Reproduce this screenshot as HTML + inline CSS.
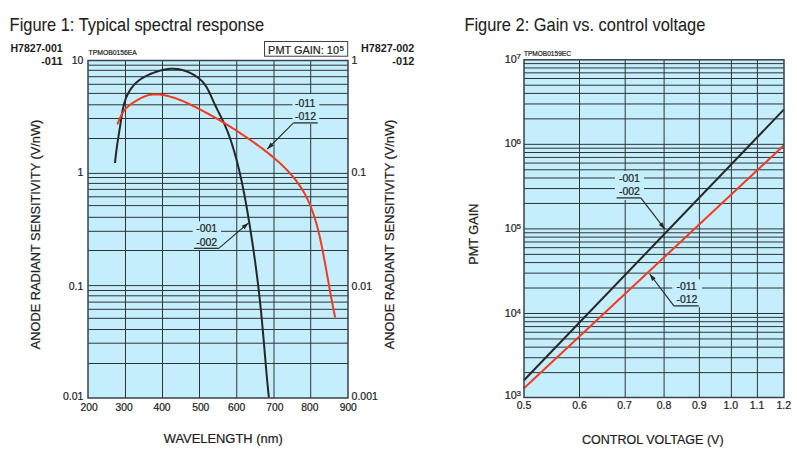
<!DOCTYPE html><html><head><meta charset="utf-8"><style>html,body{margin:0;padding:0;background:#fff;width:797px;height:464px;overflow:hidden}svg{display:block}text{font-family:"Liberation Sans", sans-serif;fill:#1e1e1e;stroke:#1e1e1e;stroke-width:0.22px}text.b{stroke-width:0}text.t{stroke-width:0.1px}</style></head><body>
<svg width="797" height="464" viewBox="0 0 797 464">
<text x="9.6" y="30.7" font-size="18.2" text-anchor="start" font-weight="normal" textLength="254.5" lengthAdjust="spacingAndGlyphs" class="t">Figure 1: Typical spectral response</text>
<text x="464.4" y="30.6" font-size="18.2" text-anchor="start" font-weight="normal" textLength="241" lengthAdjust="spacingAndGlyphs" class="t">Figure 2: Gain vs. control voltage</text>
<rect x="88" y="60.5" width="260" height="337.5" fill="#c4eefc"/>
<line x1="88" y1="65.2" x2="348" y2="65.2" stroke="#2e3438" stroke-width="1"/>
<line x1="88" y1="70.3" x2="348" y2="70.3" stroke="#2e3438" stroke-width="1"/>
<line x1="88" y1="76.7" x2="348" y2="76.7" stroke="#2e3438" stroke-width="1"/>
<line x1="88" y1="84.3" x2="348" y2="84.3" stroke="#2e3438" stroke-width="1"/>
<line x1="88" y1="93.4" x2="348" y2="93.4" stroke="#2e3438" stroke-width="1"/>
<line x1="88" y1="104.8" x2="348" y2="104.8" stroke="#2e3438" stroke-width="1"/>
<line x1="88" y1="118.5" x2="348" y2="118.5" stroke="#2e3438" stroke-width="1"/>
<line x1="88" y1="138.5" x2="348" y2="138.5" stroke="#2e3438" stroke-width="1"/>
<line x1="88" y1="173.4" x2="348" y2="173.4" stroke="#2e3438" stroke-width="1"/>
<line x1="88" y1="177.5" x2="348" y2="177.5" stroke="#2e3438" stroke-width="1"/>
<line x1="88" y1="183.4" x2="348" y2="183.4" stroke="#2e3438" stroke-width="1"/>
<line x1="88" y1="189.4" x2="348" y2="189.4" stroke="#2e3438" stroke-width="1"/>
<line x1="88" y1="196.8" x2="348" y2="196.8" stroke="#2e3438" stroke-width="1"/>
<line x1="88" y1="205.6" x2="348" y2="205.6" stroke="#2e3438" stroke-width="1"/>
<line x1="88" y1="217.3" x2="348" y2="217.3" stroke="#2e3438" stroke-width="1"/>
<line x1="88" y1="231.3" x2="348" y2="231.3" stroke="#2e3438" stroke-width="1"/>
<line x1="88" y1="250.5" x2="348" y2="250.5" stroke="#2e3438" stroke-width="1"/>
<line x1="88" y1="285.6" x2="348" y2="285.6" stroke="#2e3438" stroke-width="1"/>
<line x1="88" y1="290.5" x2="348" y2="290.5" stroke="#2e3438" stroke-width="1"/>
<line x1="88" y1="295.8" x2="348" y2="295.8" stroke="#2e3438" stroke-width="1"/>
<line x1="88" y1="302.1" x2="348" y2="302.1" stroke="#2e3438" stroke-width="1"/>
<line x1="88" y1="309.3" x2="348" y2="309.3" stroke="#2e3438" stroke-width="1"/>
<line x1="88" y1="318.3" x2="348" y2="318.3" stroke="#2e3438" stroke-width="1"/>
<line x1="88" y1="329.5" x2="348" y2="329.5" stroke="#2e3438" stroke-width="1"/>
<line x1="88" y1="343.2" x2="348" y2="343.2" stroke="#2e3438" stroke-width="1"/>
<line x1="88" y1="363.5" x2="348" y2="363.5" stroke="#2e3438" stroke-width="1"/>
<line x1="125.5" y1="60.5" x2="125.5" y2="398" stroke="#2e3438" stroke-width="1"/>
<line x1="162.5" y1="60.5" x2="162.5" y2="398" stroke="#2e3438" stroke-width="1"/>
<line x1="199.5" y1="60.5" x2="199.5" y2="398" stroke="#2e3438" stroke-width="1"/>
<line x1="236.75" y1="60.5" x2="236.75" y2="398" stroke="#2e3438" stroke-width="1"/>
<line x1="274" y1="60.5" x2="274" y2="398" stroke="#2e3438" stroke-width="1"/>
<line x1="310.7" y1="60.5" x2="310.7" y2="398" stroke="#2e3438" stroke-width="1"/>
<rect x="292.5" y="94" width="26.7" height="30" fill="#c4eefc"/>
<rect x="192.7" y="221.3" width="28.3" height="28.7" fill="#c4eefc"/>
<path d="M114.99,163 L115.15,161.38 L115.31,159.76 L115.48,158.14 L115.66,156.52 L115.85,154.91 L116.04,153.31 L116.25,151.7 L116.46,150.1 L116.67,148.5 L116.9,146.9 L117.12,145.31 L117.36,143.72 L117.59,142.12 L117.84,140.53 L118.08,138.94 L118.33,137.35 L118.58,135.76 L118.83,134.17 L119.08,132.58 L119.33,130.98 L119.58,129.39 L119.84,127.79 L120.09,126.2 L120.34,124.6 L120.59,123 L120.83,121.39 L121.08,119.79 L121.32,118.18 L121.57,116.57 L121.82,114.96 L122.09,113.36 L122.37,111.75 L122.67,110.16 L122.99,108.56 L123.33,106.98 L123.71,105.41 L124.12,103.84 L124.56,102.29 L125.05,100.75 L125.58,99.23 L126.15,97.72 L126.78,96.23 L127.46,94.75 L128.19,93.31 L128.97,91.89 L129.8,90.5 L130.68,89.15 L131.61,87.83 L132.59,86.56 L133.63,85.33 L134.71,84.15 L135.85,83.02 L137.03,81.94 L138.26,80.92 L139.54,79.95 L140.85,79.03 L142.21,78.16 L143.6,77.33 L145.02,76.54 L146.46,75.79 L147.93,75.09 L149.43,74.41 L150.94,73.78 L152.46,73.17 L154,72.6 L155.55,72.06 L157.1,71.54 L158.66,71.05 L160.23,70.6 L161.8,70.19 L163.37,69.82 L164.95,69.5 L166.53,69.23 L168.11,69.02 L169.7,68.86 L171.29,68.77 L172.89,68.74 L174.48,68.79 L176.08,68.91 L177.67,69.09 L179.26,69.35 L180.84,69.67 L182.41,70.06 L183.97,70.51 L185.52,71.02 L187.05,71.58 L188.56,72.2 L190.05,72.87 L191.52,73.6 L192.96,74.37 L194.36,75.18 L195.74,76.05 L197.08,76.96 L198.37,77.92 L199.62,78.94 L200.81,80 L201.95,81.11 L203.04,82.28 L204.06,83.5 L205.01,84.78 L205.9,86.1 L206.74,87.46 L207.54,88.86 L208.29,90.29 L209.02,91.74 L209.72,93.21 L210.4,94.69 L211.07,96.18 L211.73,97.67 L212.39,99.15 L213.06,100.64 L213.74,102.12 L214.42,103.59 L215.12,105.05 L215.82,106.51 L216.53,107.97 L217.25,109.42 L217.97,110.87 L218.69,112.32 L219.42,113.77 L220.14,115.21 L220.85,116.66 L221.57,118.11 L222.27,119.56 L222.97,121.02 L223.65,122.48 L224.32,123.95 L224.98,125.42 L225.63,126.9 L226.25,128.38 L226.87,129.88 L227.47,131.38 L228.05,132.88 L228.62,134.39 L229.18,135.91 L229.73,137.43 L230.26,138.95 L230.79,140.48 L231.3,142.02 L231.8,143.56 L232.29,145.1 L232.77,146.64 L233.25,148.19 L233.71,149.74 L234.17,151.3 L234.61,152.85 L235.05,154.41 L235.49,155.97 L235.92,157.53 L236.34,159.09 L236.75,160.66 L237.16,162.22 L237.56,163.79 L237.96,165.36 L238.35,166.93 L238.73,168.5 L239.11,170.07 L239.48,171.64 L239.85,173.22 L240.21,174.79 L240.57,176.37 L240.92,177.95 L241.27,179.53 L241.61,181.11 L241.95,182.69 L242.28,184.27 L242.61,185.85 L242.94,187.43 L243.26,189.02 L243.57,190.6 L243.89,192.19 L244.19,193.78 L244.5,195.37 L244.8,196.95 L245.1,198.54 L245.39,200.13 L245.68,201.73 L245.97,203.32 L246.26,204.91 L246.54,206.5 L246.82,208.09 L247.09,209.69 L247.37,211.28 L247.64,212.88 L247.91,214.47 L248.18,216.07 L248.44,217.66 L248.7,219.26 L248.97,220.85 L249.23,222.45 L249.49,224.05 L249.74,225.64 L250,227.24 L250.25,228.84 L250.5,230.44 L250.76,232.03 L251,233.63 L251.25,235.23 L251.5,236.83 L251.74,238.43 L251.99,240.03 L252.23,241.63 L252.47,243.23 L252.71,244.83 L252.94,246.42 L253.18,248.02 L253.41,249.63 L253.64,251.23 L253.87,252.83 L254.1,254.43 L254.33,256.03 L254.55,257.63 L254.77,259.23 L254.99,260.83 L255.21,262.44 L255.43,264.04 L255.65,265.64 L255.86,267.24 L256.08,268.85 L256.29,270.45 L256.49,272.05 L256.7,273.66 L256.91,275.26 L257.11,276.86 L257.31,278.47 L257.51,280.07 L257.71,281.68 L257.91,283.28 L258.1,284.89 L258.29,286.49 L258.48,288.1 L258.67,289.71 L258.86,291.31 L259.04,292.92 L259.23,294.53 L259.41,296.13 L259.59,297.74 L259.76,299.35 L259.94,300.96 L260.11,302.56 L260.28,304.17 L260.45,305.78 L260.62,307.39 L260.78,309 L260.95,310.61 L261.11,312.22 L261.27,313.82 L261.42,315.43 L261.58,317.04 L261.73,318.65 L261.89,320.26 L262.04,321.88 L262.19,323.49 L262.33,325.1 L262.48,326.71 L262.63,328.32 L262.77,329.93 L262.91,331.54 L263.06,333.15 L263.2,334.76 L263.34,336.38 L263.48,337.99 L263.62,339.6 L263.76,341.21 L263.89,342.82 L264.03,344.43 L264.17,346.05 L264.31,347.66 L264.44,349.27 L264.58,350.88 L264.72,352.49 L264.86,354.11 L264.99,355.72 L265.13,357.33 L265.27,358.94 L265.41,360.55 L265.55,362.17 L265.69,363.78 L265.83,365.39 L265.97,367 L266.11,368.61 L266.25,370.22 L266.39,371.83 L266.54,373.45 L266.69,375.06 L266.83,376.67 L266.98,378.28 L267.13,379.89 L267.28,381.5 L267.43,383.11 L267.59,384.72 L267.74,386.33 L267.9,387.94 L268.06,389.55 L268.22,391.16 L268.38,392.77 L268.55,394.37 L268.72,395.98 L268.89,397.59" fill="none" stroke="#262626" stroke-width="2" stroke-linejoin="round" stroke-linecap="butt"/>
<path d="M117.31,124.41 L117.77,123.33 L118.23,122.23 L118.69,121.11 L119.16,119.97 L119.65,118.83 L120.15,117.7 L120.67,116.57 L121.22,115.45 L121.79,114.35 L122.39,113.27 L123.03,112.23 L123.71,111.22 L124.43,110.26 L125.19,109.34 L125.99,108.47 L126.83,107.63 L127.7,106.82 L128.6,106.05 L129.53,105.3 L130.49,104.58 L131.47,103.88 L132.47,103.19 L133.48,102.52 L134.51,101.85 L135.55,101.19 L136.61,100.54 L137.67,99.9 L138.74,99.28 L139.83,98.68 L140.92,98.1 L142.03,97.56 L143.14,97.04 L144.27,96.56 L145.4,96.12 L146.55,95.73 L147.71,95.38 L148.87,95.09 L150.05,94.85 L151.24,94.66 L152.43,94.53 L153.63,94.44 L154.83,94.39 L156.04,94.39 L157.25,94.43 L158.45,94.5 L159.66,94.6 L160.87,94.74 L162.07,94.9 L163.27,95.08 L164.46,95.29 L165.65,95.52 L166.83,95.78 L168.01,96.05 L169.18,96.34 L170.35,96.66 L171.51,96.99 L172.67,97.34 L173.82,97.71 L174.98,98.09 L176.12,98.49 L177.26,98.91 L178.4,99.33 L179.54,99.77 L180.67,100.23 L181.79,100.69 L182.92,101.17 L184.04,101.66 L185.15,102.15 L186.27,102.66 L187.38,103.17 L188.49,103.69 L189.59,104.22 L190.69,104.75 L191.79,105.29 L192.88,105.83 L193.98,106.37 L195.07,106.92 L196.16,107.47 L197.24,108.02 L198.32,108.57 L199.4,109.13 L200.48,109.69 L201.56,110.25 L202.63,110.81 L203.71,111.38 L204.78,111.95 L205.84,112.52 L206.91,113.09 L207.97,113.67 L209.03,114.25 L210.09,114.83 L211.15,115.42 L212.21,116.01 L213.26,116.6 L214.32,117.19 L215.37,117.79 L216.42,118.39 L217.47,118.99 L218.51,119.6 L219.56,120.21 L220.6,120.83 L221.64,121.44 L222.69,122.07 L223.73,122.69 L224.76,123.32 L225.8,123.95 L226.84,124.58 L227.87,125.22 L228.91,125.87 L229.94,126.51 L230.97,127.16 L232,127.81 L233.03,128.47 L234.05,129.12 L235.08,129.78 L236.1,130.45 L237.13,131.11 L238.15,131.78 L239.17,132.45 L240.18,133.12 L241.2,133.8 L242.21,134.47 L243.22,135.15 L244.23,135.83 L245.24,136.51 L246.25,137.2 L247.25,137.88 L248.26,138.57 L249.26,139.26 L250.25,139.95 L251.25,140.64 L252.24,141.33 L253.24,142.03 L254.22,142.72 L255.21,143.43 L256.2,144.13 L257.18,144.83 L258.16,145.54 L259.14,146.26 L260.11,146.97 L261.08,147.69 L262.05,148.41 L263.02,149.14 L263.98,149.87 L264.94,150.61 L265.9,151.35 L266.86,152.09 L267.81,152.84 L268.76,153.6 L269.7,154.36 L270.65,155.12 L271.59,155.89 L272.52,156.67 L273.45,157.45 L274.38,158.24 L275.31,159.03 L276.23,159.83 L277.14,160.64 L278.05,161.45 L278.96,162.26 L279.86,163.09 L280.75,163.92 L281.64,164.75 L282.52,165.59 L283.4,166.44 L284.27,167.3 L285.13,168.16 L285.98,169.03 L286.83,169.9 L287.67,170.78 L288.5,171.67 L289.33,172.56 L290.14,173.47 L290.95,174.37 L291.75,175.29 L292.54,176.21 L293.32,177.14 L294.09,178.08 L294.85,179.02 L295.6,179.98 L296.34,180.94 L297.07,181.9 L297.79,182.88 L298.5,183.86 L299.2,184.85 L299.88,185.85 L300.56,186.85 L301.22,187.86 L301.87,188.89 L302.5,189.92 L303.13,190.95 L303.74,192 L304.34,193.05 L304.92,194.11 L305.5,195.18 L306.06,196.26 L306.6,197.34 L307.14,198.44 L307.66,199.53 L308.17,200.64 L308.68,201.75 L309.17,202.86 L309.64,203.98 L310.11,205.11 L310.57,206.24 L311.02,207.37 L311.46,208.51 L311.89,209.65 L312.31,210.8 L312.72,211.95 L313.12,213.1 L313.51,214.25 L313.9,215.41 L314.28,216.57 L314.64,217.73 L315.01,218.89 L315.36,220.05 L315.71,221.22 L316.05,222.38 L316.38,223.55 L316.71,224.72 L317.03,225.89 L317.35,227.06 L317.66,228.23 L317.96,229.41 L318.26,230.58 L318.55,231.76 L318.84,232.94 L319.12,234.12 L319.4,235.3 L319.67,236.48 L319.94,237.66 L320.2,238.84 L320.46,240.03 L320.72,241.21 L320.97,242.4 L321.22,243.58 L321.47,244.77 L321.71,245.96 L321.96,247.15 L322.19,248.34 L322.43,249.53 L322.66,250.72 L322.9,251.91 L323.13,253.1 L323.36,254.29 L323.58,255.48 L323.81,256.68 L324.03,257.87 L324.26,259.07 L324.48,260.26 L324.7,261.45 L324.92,262.65 L325.14,263.84 L325.36,265.04 L325.58,266.23 L325.79,267.43 L326.01,268.63 L326.22,269.82 L326.44,271.02 L326.65,272.22 L326.87,273.41 L327.08,274.61 L327.3,275.81 L327.51,277 L327.73,278.2 L327.94,279.4 L328.15,280.59 L328.37,281.79 L328.58,282.99 L328.8,284.19 L329.01,285.38 L329.23,286.58 L329.44,287.78 L329.66,288.97 L329.87,290.17 L330.09,291.37 L330.31,292.56 L330.53,293.76 L330.75,294.95 L330.97,296.15 L331.19,297.34 L331.42,298.54 L331.64,299.73 L331.87,300.93 L332.09,302.12 L332.32,303.31 L332.55,304.51 L332.78,305.7 L333.02,306.89 L333.25,308.08 L333.49,309.27 L333.73,310.46 L333.97,311.65 L334.21,312.84 L334.46,314.03 L334.7,315.22 L334.95,316.41 L335.2,317.59" fill="none" stroke="#f23a22" stroke-width="2" stroke-linejoin="round" stroke-linecap="butt"/>
<rect x="88" y="60.5" width="260" height="337.5" fill="none" stroke="#3a414b" stroke-width="1.5"/>
<text x="295" y="106.5" font-size="10.5" text-anchor="start" font-weight="normal">-011</text>
<text x="295" y="119.8" font-size="10.5" text-anchor="start" font-weight="normal">-012</text>
<line x1="293.5" y1="122.9" x2="317.7" y2="122.9" stroke="#262626" stroke-width="1.25"/>
<line x1="293.5" y1="122.8" x2="267.2" y2="149.2" stroke="#262626" stroke-width="1.1"/>
<path d="M267.2,149.2 L270.51,142.62 L273.77,145.86 Z" fill="#262626"/>
<text x="196.2" y="232" font-size="10.5" text-anchor="start" font-weight="normal">-001</text>
<text x="196.2" y="245.5" font-size="10.5" text-anchor="start" font-weight="normal">-002</text>
<line x1="194" y1="248.3" x2="218.8" y2="248.3" stroke="#262626" stroke-width="1.25"/>
<line x1="218.8" y1="248.3" x2="248.5" y2="222.9" stroke="#262626" stroke-width="1.1"/>
<path d="M248.5,222.9 L244.68,229.2 L241.69,225.7 Z" fill="#262626"/>
<text x="89.05" y="410.9" font-size="10.3" text-anchor="middle" font-weight="normal">200</text>
<text x="124.2" y="410.9" font-size="10.3" text-anchor="middle" font-weight="normal">300</text>
<text x="162" y="410.9" font-size="10.3" text-anchor="middle" font-weight="normal">400</text>
<text x="200.75" y="410.9" font-size="10.3" text-anchor="middle" font-weight="normal">500</text>
<text x="236.7" y="410.9" font-size="10.3" text-anchor="middle" font-weight="normal">600</text>
<text x="274.9" y="410.9" font-size="10.3" text-anchor="middle" font-weight="normal">700</text>
<text x="309.9" y="410.9" font-size="10.3" text-anchor="middle" font-weight="normal">800</text>
<text x="348.25" y="410.9" font-size="10.3" text-anchor="middle" font-weight="normal">900</text>
<text x="83.4" y="63.6" font-size="10.5" text-anchor="end" font-weight="normal">10</text>
<text x="83.4" y="175.7" font-size="10.5" text-anchor="end" font-weight="normal">1</text>
<text x="83.4" y="289.6" font-size="10.5" text-anchor="end" font-weight="normal">0.1</text>
<text x="83.4" y="399.6" font-size="10.5" text-anchor="end" font-weight="normal">0.01</text>
<text x="351.6" y="63.5" font-size="10.5" text-anchor="start" font-weight="normal">1</text>
<text x="351.6" y="175.8" font-size="10.5" text-anchor="start" font-weight="normal">0.1</text>
<text x="351.6" y="289.7" font-size="10.5" text-anchor="start" font-weight="normal">0.01</text>
<text x="351.6" y="399.7" font-size="10.5" text-anchor="start" font-weight="normal">0.001</text>
<text x="10.4" y="52.2" font-size="11" text-anchor="start" font-weight="bold" textLength="52.3" lengthAdjust="spacingAndGlyphs" class="b">H7827-001</text>
<text x="62.6" y="64.6" font-size="11" text-anchor="end" font-weight="bold" class="b">-011</text>
<text x="360.9" y="52" font-size="11" text-anchor="start" font-weight="bold" textLength="53.3" lengthAdjust="spacingAndGlyphs" class="b">H7827-002</text>
<text x="414.4" y="65.2" font-size="11" text-anchor="end" font-weight="bold" class="b">-012</text>
<text x="88.6" y="55.3" font-size="7.4" text-anchor="start" font-weight="normal" textLength="48.3" lengthAdjust="spacingAndGlyphs" stroke="#1e1e1e" stroke-width="0.25">TPMOB0156EA</text>
<rect x="264.5" y="41.5" width="83.2" height="14.7" fill="#fff" stroke="#3a414b" stroke-width="1"/>
<text x="268.1" y="53.5" font-size="11.3" text-anchor="start" font-weight="normal" textLength="70.9" lengthAdjust="spacingAndGlyphs">PMT GAIN: 10</text>
<text x="339.4" y="50.8" font-size="8" text-anchor="start" font-weight="normal">5</text>
<text x="223.2" y="442.9" font-size="13" text-anchor="middle" font-weight="normal" textLength="119" lengthAdjust="spacingAndGlyphs">WAVELENGTH (nm)</text>
<text x="0" y="0" font-size="12.9" text-anchor="middle" transform="translate(40.1,234.5) rotate(-90)" textLength="229.6" lengthAdjust="spacingAndGlyphs">ANODE RADIANT SENSITIVITY (V/nW)</text>
<text x="0" y="0" font-size="12.9" text-anchor="middle" transform="translate(394.3,234.5) rotate(-90)" textLength="229.6" lengthAdjust="spacingAndGlyphs">ANODE RADIANT SENSITIVITY (V/nW)</text>
<rect x="524" y="59.8" width="260" height="337.7" fill="#c4eefc"/>
<line x1="524" y1="372.61" x2="784" y2="372.61" stroke="#2e3438" stroke-width="1"/>
<line x1="524" y1="357.72" x2="784" y2="357.72" stroke="#2e3438" stroke-width="1"/>
<line x1="524" y1="347.15" x2="784" y2="347.15" stroke="#2e3438" stroke-width="1"/>
<line x1="524" y1="338.95" x2="784" y2="338.95" stroke="#2e3438" stroke-width="1"/>
<line x1="524" y1="332.25" x2="784" y2="332.25" stroke="#2e3438" stroke-width="1"/>
<line x1="524" y1="326.59" x2="784" y2="326.59" stroke="#2e3438" stroke-width="1"/>
<line x1="524" y1="321.69" x2="784" y2="321.69" stroke="#2e3438" stroke-width="1"/>
<line x1="524" y1="317.36" x2="784" y2="317.36" stroke="#2e3438" stroke-width="1"/>
<line x1="524" y1="313.49" x2="784" y2="313.49" stroke="#2e3438" stroke-width="1"/>
<line x1="524" y1="288.03" x2="784" y2="288.03" stroke="#2e3438" stroke-width="1"/>
<line x1="524" y1="273.14" x2="784" y2="273.14" stroke="#2e3438" stroke-width="1"/>
<line x1="524" y1="262.57" x2="784" y2="262.57" stroke="#2e3438" stroke-width="1"/>
<line x1="524" y1="254.37" x2="784" y2="254.37" stroke="#2e3438" stroke-width="1"/>
<line x1="524" y1="247.67" x2="784" y2="247.67" stroke="#2e3438" stroke-width="1"/>
<line x1="524" y1="242.01" x2="784" y2="242.01" stroke="#2e3438" stroke-width="1"/>
<line x1="524" y1="237.11" x2="784" y2="237.11" stroke="#2e3438" stroke-width="1"/>
<line x1="524" y1="232.78" x2="784" y2="232.78" stroke="#2e3438" stroke-width="1"/>
<line x1="524" y1="228.91" x2="784" y2="228.91" stroke="#2e3438" stroke-width="1"/>
<line x1="524" y1="203.45" x2="784" y2="203.45" stroke="#2e3438" stroke-width="1"/>
<line x1="524" y1="188.56" x2="784" y2="188.56" stroke="#2e3438" stroke-width="1"/>
<line x1="524" y1="177.99" x2="784" y2="177.99" stroke="#2e3438" stroke-width="1"/>
<line x1="524" y1="169.79" x2="784" y2="169.79" stroke="#2e3438" stroke-width="1"/>
<line x1="524" y1="163.09" x2="784" y2="163.09" stroke="#2e3438" stroke-width="1"/>
<line x1="524" y1="157.43" x2="784" y2="157.43" stroke="#2e3438" stroke-width="1"/>
<line x1="524" y1="152.53" x2="784" y2="152.53" stroke="#2e3438" stroke-width="1"/>
<line x1="524" y1="148.2" x2="784" y2="148.2" stroke="#2e3438" stroke-width="1"/>
<line x1="524" y1="144.33" x2="784" y2="144.33" stroke="#2e3438" stroke-width="1"/>
<line x1="524" y1="118.87" x2="784" y2="118.87" stroke="#2e3438" stroke-width="1"/>
<line x1="524" y1="103.98" x2="784" y2="103.98" stroke="#2e3438" stroke-width="1"/>
<line x1="524" y1="93.41" x2="784" y2="93.41" stroke="#2e3438" stroke-width="1"/>
<line x1="524" y1="85.21" x2="784" y2="85.21" stroke="#2e3438" stroke-width="1"/>
<line x1="524" y1="78.51" x2="784" y2="78.51" stroke="#2e3438" stroke-width="1"/>
<line x1="524" y1="72.85" x2="784" y2="72.85" stroke="#2e3438" stroke-width="1"/>
<line x1="524" y1="67.95" x2="784" y2="67.95" stroke="#2e3438" stroke-width="1"/>
<line x1="524" y1="63.62" x2="784" y2="63.62" stroke="#2e3438" stroke-width="1"/>
<line x1="579.5" y1="59.8" x2="579.5" y2="397.5" stroke="#2e3438" stroke-width="1"/>
<line x1="625.2" y1="59.8" x2="625.2" y2="397.5" stroke="#2e3438" stroke-width="1"/>
<line x1="664.1" y1="59.8" x2="664.1" y2="397.5" stroke="#2e3438" stroke-width="1"/>
<line x1="699.4" y1="59.8" x2="699.4" y2="397.5" stroke="#2e3438" stroke-width="1"/>
<line x1="731.4" y1="59.8" x2="731.4" y2="397.5" stroke="#2e3438" stroke-width="1"/>
<line x1="757.4" y1="59.8" x2="757.4" y2="397.5" stroke="#2e3438" stroke-width="1"/>
<rect x="615" y="171" width="29" height="29" fill="#c4eefc"/>
<rect x="672.3" y="279.4" width="29.7" height="27.8" fill="#c4eefc"/>
<line x1="524" y1="380.3" x2="784" y2="109.4" stroke="#262626" stroke-width="2"/>
<line x1="524" y1="388.2" x2="784" y2="145.3" stroke="#f23a22" stroke-width="2"/>
<rect x="524" y="59.8" width="260" height="337.7" fill="none" stroke="#3a414b" stroke-width="1.5"/>
<text x="618.9" y="181.8" font-size="10.5" text-anchor="start" font-weight="normal">-001</text>
<text x="618.9" y="194.8" font-size="10.5" text-anchor="start" font-weight="normal">-002</text>
<line x1="616.6" y1="197.9" x2="640.8" y2="197.9" stroke="#262626" stroke-width="1.25"/>
<line x1="640.8" y1="197.9" x2="664.9" y2="229.2" stroke="#262626" stroke-width="1.1"/>
<path d="M664.9,229.2 L658.81,225.06 L662.45,222.25 Z" fill="#262626"/>
<text x="676.4" y="289.9" font-size="10.5" text-anchor="start" font-weight="normal">-011</text>
<text x="676.4" y="302.5" font-size="10.5" text-anchor="start" font-weight="normal">-012</text>
<line x1="673.9" y1="305.9" x2="698.8" y2="305.9" stroke="#262626" stroke-width="1.25"/>
<line x1="673.9" y1="305.9" x2="649.7" y2="274" stroke="#262626" stroke-width="1.1"/>
<path d="M649.7,274 L655.76,278.19 L652.1,280.97 Z" fill="#262626"/>
<text x="524.1" y="409.4" font-size="10.5" text-anchor="middle" font-weight="normal">0.5</text>
<text x="579.45" y="409.4" font-size="10.5" text-anchor="middle" font-weight="normal">0.6</text>
<text x="624.45" y="409.4" font-size="10.5" text-anchor="middle" font-weight="normal">0.7</text>
<text x="664.1" y="409.4" font-size="10.5" text-anchor="middle" font-weight="normal">0.8</text>
<text x="699.3" y="409.4" font-size="10.5" text-anchor="middle" font-weight="normal">0.9</text>
<text x="730.8" y="409.4" font-size="10.5" text-anchor="middle" font-weight="normal">1.0</text>
<text x="757" y="409.4" font-size="10.5" text-anchor="middle" font-weight="normal">1.1</text>
<text x="783.8" y="409.4" font-size="10.5" text-anchor="middle" font-weight="normal">1.2</text>
<text x="516.8" y="62.5" font-size="10.8" text-anchor="end" font-weight="normal">10</text>
<text x="516.6" y="59.4" font-size="8" text-anchor="start" font-weight="normal">7</text>
<text x="516.8" y="147.4" font-size="10.8" text-anchor="end" font-weight="normal">10</text>
<text x="516.6" y="144.3" font-size="8" text-anchor="start" font-weight="normal">6</text>
<text x="516.8" y="231.7" font-size="10.8" text-anchor="end" font-weight="normal">10</text>
<text x="516.6" y="228.6" font-size="8" text-anchor="start" font-weight="normal">5</text>
<text x="516.8" y="316.7" font-size="10.8" text-anchor="end" font-weight="normal">10</text>
<text x="516.6" y="313.6" font-size="8" text-anchor="start" font-weight="normal">4</text>
<text x="516.8" y="398.6" font-size="10.8" text-anchor="end" font-weight="normal">10</text>
<text x="516.6" y="395.5" font-size="8" text-anchor="start" font-weight="normal">3</text>
<text x="523.9" y="56" font-size="7.4" text-anchor="start" font-weight="normal" textLength="47" lengthAdjust="spacingAndGlyphs" stroke="#1e1e1e" stroke-width="0.25">TPMOB0159EC</text>
<text x="652.8" y="443.6" font-size="13" text-anchor="middle" font-weight="normal" textLength="141.6" lengthAdjust="spacingAndGlyphs">CONTROL VOLTAGE (V)</text>
<text x="0" y="0" font-size="12.9" text-anchor="middle" transform="translate(477.6,234.2) rotate(-90)" textLength="61" lengthAdjust="spacingAndGlyphs">PMT GAIN</text>
</svg></body></html>
